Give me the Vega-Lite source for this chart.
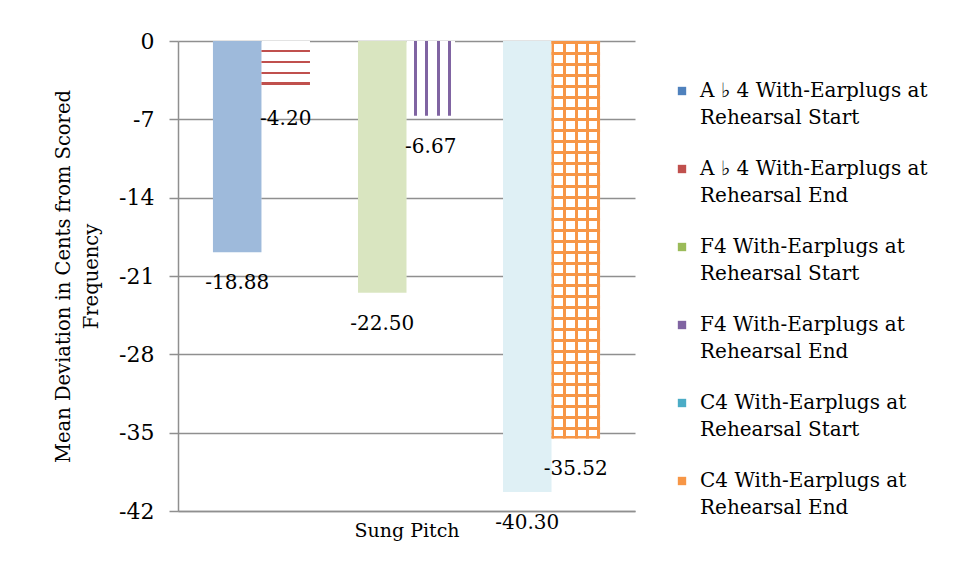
{
  "$schema": "https://vega.github.io/schema/vega-lite/v6.json",
  "width": 457,
  "height": 470,
  "autosize": {"type": "none"},
  "padding": {"left": 178, "top": 41, "right": 323, "bottom": 67},
  "background": "white",
  "config": {
    "font": "DejaVu Serif",
    "view": {"stroke": null},
    "locale": {"number": {"decimal": ".", "thousands": ",", "grouping": [3], "currency": ["$", ""], "minus": "-"}}
  },
  "data": {
    "values": [
      {"pitch": "Ab4", "phase": "Start", "series": "A ♭ 4 With-Earplugs at Rehearsal Start", "value": -18.88},
      {"pitch": "Ab4", "phase": "End", "series": "A ♭ 4 With-Earplugs at Rehearsal End", "value": -4.20},
      {"pitch": "F4", "phase": "Start", "series": "F4 With-Earplugs at Rehearsal Start", "value": -22.50},
      {"pitch": "F4", "phase": "End", "series": "F4 With-Earplugs at Rehearsal End", "value": -6.67},
      {"pitch": "C4", "phase": "Start", "series": "C4 With-Earplugs at Rehearsal Start", "value": -40.30},
      {"pitch": "C4", "phase": "End", "series": "C4 With-Earplugs at Rehearsal End", "value": -35.52}
    ]
  },
  "encoding": {
    "x": {
      "field": "pitch", "type": "nominal", "sort": ["Ab4", "F4", "C4"],
      "scale": {"paddingInner": 0.331, "paddingOuter": 0.241},
      "axis": {
        "labels": false, "ticks": false, "domain": true, "domainColor": "#8f8f8f", "domainWidth": 1.5,
        "title": "Sung Pitch", "titleFontSize": 19, "titleFontWeight": "normal", "titleColor": "black", "titlePadding": 10
      }
    },
    "xOffset": {"field": "phase", "type": "nominal", "sort": ["Start", "End"], "scale": {"paddingInner": 0, "paddingOuter": 0}},
    "y": {
      "field": "value", "type": "quantitative",
      "scale": {"domain": [-42, 0], "nice": false, "zero": false},
      "axis": {
        "values": [0, -7, -14, -21, -28, -35, -42],
        "grid": true, "gridColor": "#8f8f8f", "gridWidth": 1.5,
        "domainColor": "#8f8f8f", "domainWidth": 1.5,
        "tickColor": "#8f8f8f", "tickWidth": 1.5, "tickSize": 9,
        "labelFontSize": 22, "labelColor": "black", "labelPadding": 15,
        "title": ["Mean Deviation in Cents from Scored", "Frequency"],
        "titleFontSize": 19.5, "titleFontWeight": "normal", "titleColor": "black",
        "titleLineHeight": 28, "titleAngle": -90, "titleX": -124, "titleY": 235,
        "titleAlign": "center", "titleBaseline": "top"
      }
    }
  },
  "layer": [
    {
      "mark": {"type": "bar", "color": "white"},
      "encoding": {}
    },
    {
      "mark": {"type": "bar"},
      "encoding": {
        "color": {
          "field": "series", "type": "nominal",
          "scale": {
            "domain": [
              "A ♭ 4 With-Earplugs at Rehearsal Start",
              "A ♭ 4 With-Earplugs at Rehearsal End",
              "F4 With-Earplugs at Rehearsal Start",
              "F4 With-Earplugs at Rehearsal End",
              "C4 With-Earplugs at Rehearsal Start",
              "C4 With-Earplugs at Rehearsal End"
            ],
            "range": ["#4F81BD", "#C0504D", "#9BBB59", "#8064A2", "#4BACC6", "#F79646"]
          },
          "legend": {
            "orient": "none", "legendX": 494, "legendY": 40, "title": null,
            "symbolType": "square", "symbolSize": 70,
            "labelFontSize": 20, "labelColor": "black", "labelLimit": 400,
            "labelExpr": "[slice(datum.label, 0, indexof(datum.label, ' at ') + 3), slice(datum.label, indexof(datum.label, ' at ') + 4)]",
            "rowPadding": 31, "labelOffset": 8,
            "encode": {
              "symbols": {"update": {"fillOpacity": {"value": 1}, "opacity": {"value": 1}}},
              "labels": {"update": {"lineHeight": {"value": 27}}}
            }
          }
        },
        "fillOpacity": {
          "condition": [
            {"test": "datum.pitch == 'Ab4' && datum.phase == 'Start'", "value": 0.55},
            {"test": "datum.pitch == 'F4' && datum.phase == 'Start'", "value": 0.38},
            {"test": "datum.pitch == 'C4' && datum.phase == 'Start'", "value": 0.18}
          ],
          "value": 0
        }
      }
    },
    {
      "transform": [{"filter": "datum.pitch == 'Ab4' && datum.phase == 'End'"}],
      "mark": {
        "type": "bar",
        "fill": {
          "gradient": "linear", "x1": 0, "y1": 0, "x2": 0, "y2": 1,
          "stops": [
            {"offset": 0, "color": "rgba(255,255,255,0)"},
            {"offset": 0.19, "color": "rgba(255,255,255,0)"},
            {"offset": 0.19, "color": "#C0504D"},
            {"offset": 0.24, "color": "#C0504D"},
            {"offset": 0.24, "color": "rgba(255,255,255,0)"},
            {"offset": 0.42, "color": "rgba(255,255,255,0)"},
            {"offset": 0.42, "color": "#C0504D"},
            {"offset": 0.47, "color": "#C0504D"},
            {"offset": 0.47, "color": "rgba(255,255,255,0)"},
            {"offset": 0.65, "color": "rgba(255,255,255,0)"},
            {"offset": 0.65, "color": "#C0504D"},
            {"offset": 0.70, "color": "#C0504D"},
            {"offset": 0.70, "color": "rgba(255,255,255,0)"},
            {"offset": 0.88, "color": "rgba(255,255,255,0)"},
            {"offset": 0.88, "color": "#C0504D"},
            {"offset": 0.93, "color": "#C0504D"},
            {"offset": 0.93, "color": "rgba(255,255,255,0)"},
            {"offset": 1, "color": "rgba(255,255,255,0)"}
          ]
        }
      },
      "encoding": {}
    },
    {
      "transform": [{"filter": "datum.pitch == 'F4' && datum.phase == 'End'"}],
      "mark": {
        "type": "bar",
        "fill": {
          "gradient": "linear", "x1": 0, "y1": 0, "x2": 1, "y2": 0,
          "stops": [
            {"offset": 0, "color": "rgba(255,255,255,0)"},
            {"offset": 0.15, "color": "rgba(255,255,255,0)"},
            {"offset": 0.15, "color": "#8064A2"},
            {"offset": 0.21, "color": "#8064A2"},
            {"offset": 0.21, "color": "rgba(255,255,255,0)"},
            {"offset": 0.39, "color": "rgba(255,255,255,0)"},
            {"offset": 0.39, "color": "#8064A2"},
            {"offset": 0.45, "color": "#8064A2"},
            {"offset": 0.45, "color": "rgba(255,255,255,0)"},
            {"offset": 0.63, "color": "rgba(255,255,255,0)"},
            {"offset": 0.63, "color": "#8064A2"},
            {"offset": 0.69, "color": "#8064A2"},
            {"offset": 0.69, "color": "rgba(255,255,255,0)"},
            {"offset": 0.86, "color": "rgba(255,255,255,0)"},
            {"offset": 0.86, "color": "#8064A2"},
            {"offset": 0.92, "color": "#8064A2"},
            {"offset": 0.92, "color": "rgba(255,255,255,0)"},
            {"offset": 1, "color": "rgba(255,255,255,0)"}
          ]
        }
      },
      "encoding": {}
    },
    {
      "transform": [{"filter": "datum.pitch == 'C4' && datum.phase == 'End'"}],
      "mark": {
        "type": "bar",
        "fill": {
          "gradient": "linear", "x1": 0, "y1": 0, "x2": 1, "y2": 0,
          "stops": [
            {"offset": 0, "color": "#F79646"},
            {"offset": 0.06, "color": "#F79646"},
            {"offset": 0.06, "color": "rgba(255,255,255,0)"},
            {"offset": 0.24, "color": "rgba(255,255,255,0)"},
            {"offset": 0.24, "color": "#F79646"},
            {"offset": 0.30, "color": "#F79646"},
            {"offset": 0.30, "color": "rgba(255,255,255,0)"},
            {"offset": 0.49, "color": "rgba(255,255,255,0)"},
            {"offset": 0.49, "color": "#F79646"},
            {"offset": 0.55, "color": "#F79646"},
            {"offset": 0.55, "color": "rgba(255,255,255,0)"},
            {"offset": 0.72, "color": "rgba(255,255,255,0)"},
            {"offset": 0.72, "color": "#F79646"},
            {"offset": 0.78, "color": "#F79646"},
            {"offset": 0.78, "color": "rgba(255,255,255,0)"},
            {"offset": 0.94, "color": "rgba(255,255,255,0)"},
            {"offset": 0.94, "color": "#F79646"},
            {"offset": 1, "color": "#F79646"}
          ]
        }
      },
      "encoding": {}
    },
    {
      "transform": [{"filter": "datum.pitch == 'C4' && datum.phase == 'End'"}],
      "mark": {
        "type": "bar",
        "fill": {
          "gradient": "linear", "x1": 0, "y1": 0, "x2": 0, "y2": 1,
          "stops": [
            {"offset": 0, "color": "#F79646"}, {"offset": 0.0075, "color": "#F79646"}, {"offset": 0.0075, "color": "rgba(255,255,255,0)"}, {"offset": 0.0278, "color": "rgba(255,255,255,0)"},
            {"offset": 0.0278, "color": "#F79646"}, {"offset": 0.0353, "color": "#F79646"}, {"offset": 0.0353, "color": "rgba(255,255,255,0)"}, {"offset": 0.0556, "color": "rgba(255,255,255,0)"},
            {"offset": 0.0556, "color": "#F79646"}, {"offset": 0.0631, "color": "#F79646"}, {"offset": 0.0631, "color": "rgba(255,255,255,0)"}, {"offset": 0.0833, "color": "rgba(255,255,255,0)"},
            {"offset": 0.0833, "color": "#F79646"}, {"offset": 0.0908, "color": "#F79646"}, {"offset": 0.0908, "color": "rgba(255,255,255,0)"}, {"offset": 0.1111, "color": "rgba(255,255,255,0)"},
            {"offset": 0.1111, "color": "#F79646"}, {"offset": 0.1186, "color": "#F79646"}, {"offset": 0.1186, "color": "rgba(255,255,255,0)"}, {"offset": 0.1389, "color": "rgba(255,255,255,0)"},
            {"offset": 0.1389, "color": "#F79646"}, {"offset": 0.1464, "color": "#F79646"}, {"offset": 0.1464, "color": "rgba(255,255,255,0)"}, {"offset": 0.1667, "color": "rgba(255,255,255,0)"},
            {"offset": 0.1667, "color": "#F79646"}, {"offset": 0.1742, "color": "#F79646"}, {"offset": 0.1742, "color": "rgba(255,255,255,0)"}, {"offset": 0.1944, "color": "rgba(255,255,255,0)"},
            {"offset": 0.1944, "color": "#F79646"}, {"offset": 0.2019, "color": "#F79646"}, {"offset": 0.2019, "color": "rgba(255,255,255,0)"}, {"offset": 0.2222, "color": "rgba(255,255,255,0)"},
            {"offset": 0.2222, "color": "#F79646"}, {"offset": 0.2297, "color": "#F79646"}, {"offset": 0.2297, "color": "rgba(255,255,255,0)"}, {"offset": 0.25, "color": "rgba(255,255,255,0)"},
            {"offset": 0.25, "color": "#F79646"}, {"offset": 0.2575, "color": "#F79646"}, {"offset": 0.2575, "color": "rgba(255,255,255,0)"}, {"offset": 0.2778, "color": "rgba(255,255,255,0)"},
            {"offset": 0.2778, "color": "#F79646"}, {"offset": 0.2853, "color": "#F79646"}, {"offset": 0.2853, "color": "rgba(255,255,255,0)"}, {"offset": 0.3056, "color": "rgba(255,255,255,0)"},
            {"offset": 0.3056, "color": "#F79646"}, {"offset": 0.3131, "color": "#F79646"}, {"offset": 0.3131, "color": "rgba(255,255,255,0)"}, {"offset": 0.3333, "color": "rgba(255,255,255,0)"},
            {"offset": 0.3333, "color": "#F79646"}, {"offset": 0.3408, "color": "#F79646"}, {"offset": 0.3408, "color": "rgba(255,255,255,0)"}, {"offset": 0.3611, "color": "rgba(255,255,255,0)"},
            {"offset": 0.3611, "color": "#F79646"}, {"offset": 0.3686, "color": "#F79646"}, {"offset": 0.3686, "color": "rgba(255,255,255,0)"}, {"offset": 0.3889, "color": "rgba(255,255,255,0)"},
            {"offset": 0.3889, "color": "#F79646"}, {"offset": 0.3964, "color": "#F79646"}, {"offset": 0.3964, "color": "rgba(255,255,255,0)"}, {"offset": 0.4167, "color": "rgba(255,255,255,0)"},
            {"offset": 0.4167, "color": "#F79646"}, {"offset": 0.4242, "color": "#F79646"}, {"offset": 0.4242, "color": "rgba(255,255,255,0)"}, {"offset": 0.4444, "color": "rgba(255,255,255,0)"},
            {"offset": 0.4444, "color": "#F79646"}, {"offset": 0.4519, "color": "#F79646"}, {"offset": 0.4519, "color": "rgba(255,255,255,0)"}, {"offset": 0.4722, "color": "rgba(255,255,255,0)"},
            {"offset": 0.4722, "color": "#F79646"}, {"offset": 0.4797, "color": "#F79646"}, {"offset": 0.4797, "color": "rgba(255,255,255,0)"}, {"offset": 0.5, "color": "rgba(255,255,255,0)"},
            {"offset": 0.5, "color": "#F79646"}, {"offset": 0.5075, "color": "#F79646"}, {"offset": 0.5075, "color": "rgba(255,255,255,0)"}, {"offset": 0.5278, "color": "rgba(255,255,255,0)"},
            {"offset": 0.5278, "color": "#F79646"}, {"offset": 0.5353, "color": "#F79646"}, {"offset": 0.5353, "color": "rgba(255,255,255,0)"}, {"offset": 0.5556, "color": "rgba(255,255,255,0)"},
            {"offset": 0.5556, "color": "#F79646"}, {"offset": 0.5631, "color": "#F79646"}, {"offset": 0.5631, "color": "rgba(255,255,255,0)"}, {"offset": 0.5833, "color": "rgba(255,255,255,0)"},
            {"offset": 0.5833, "color": "#F79646"}, {"offset": 0.5908, "color": "#F79646"}, {"offset": 0.5908, "color": "rgba(255,255,255,0)"}, {"offset": 0.6111, "color": "rgba(255,255,255,0)"},
            {"offset": 0.6111, "color": "#F79646"}, {"offset": 0.6186, "color": "#F79646"}, {"offset": 0.6186, "color": "rgba(255,255,255,0)"}, {"offset": 0.6389, "color": "rgba(255,255,255,0)"},
            {"offset": 0.6389, "color": "#F79646"}, {"offset": 0.6464, "color": "#F79646"}, {"offset": 0.6464, "color": "rgba(255,255,255,0)"}, {"offset": 0.6667, "color": "rgba(255,255,255,0)"},
            {"offset": 0.6667, "color": "#F79646"}, {"offset": 0.6742, "color": "#F79646"}, {"offset": 0.6742, "color": "rgba(255,255,255,0)"}, {"offset": 0.6944, "color": "rgba(255,255,255,0)"},
            {"offset": 0.6944, "color": "#F79646"}, {"offset": 0.7019, "color": "#F79646"}, {"offset": 0.7019, "color": "rgba(255,255,255,0)"}, {"offset": 0.7222, "color": "rgba(255,255,255,0)"},
            {"offset": 0.7222, "color": "#F79646"}, {"offset": 0.7297, "color": "#F79646"}, {"offset": 0.7297, "color": "rgba(255,255,255,0)"}, {"offset": 0.75, "color": "rgba(255,255,255,0)"},
            {"offset": 0.75, "color": "#F79646"}, {"offset": 0.7575, "color": "#F79646"}, {"offset": 0.7575, "color": "rgba(255,255,255,0)"}, {"offset": 0.7778, "color": "rgba(255,255,255,0)"},
            {"offset": 0.7778, "color": "#F79646"}, {"offset": 0.7853, "color": "#F79646"}, {"offset": 0.7853, "color": "rgba(255,255,255,0)"}, {"offset": 0.8056, "color": "rgba(255,255,255,0)"},
            {"offset": 0.8056, "color": "#F79646"}, {"offset": 0.8131, "color": "#F79646"}, {"offset": 0.8131, "color": "rgba(255,255,255,0)"}, {"offset": 0.8333, "color": "rgba(255,255,255,0)"},
            {"offset": 0.8333, "color": "#F79646"}, {"offset": 0.8408, "color": "#F79646"}, {"offset": 0.8408, "color": "rgba(255,255,255,0)"}, {"offset": 0.8611, "color": "rgba(255,255,255,0)"},
            {"offset": 0.8611, "color": "#F79646"}, {"offset": 0.8686, "color": "#F79646"}, {"offset": 0.8686, "color": "rgba(255,255,255,0)"}, {"offset": 0.8889, "color": "rgba(255,255,255,0)"},
            {"offset": 0.8889, "color": "#F79646"}, {"offset": 0.8964, "color": "#F79646"}, {"offset": 0.8964, "color": "rgba(255,255,255,0)"}, {"offset": 0.9167, "color": "rgba(255,255,255,0)"},
            {"offset": 0.9167, "color": "#F79646"}, {"offset": 0.9242, "color": "#F79646"}, {"offset": 0.9242, "color": "rgba(255,255,255,0)"}, {"offset": 0.9444, "color": "rgba(255,255,255,0)"},
            {"offset": 0.9444, "color": "#F79646"}, {"offset": 0.9519, "color": "#F79646"}, {"offset": 0.9519, "color": "rgba(255,255,255,0)"}, {"offset": 0.9722, "color": "rgba(255,255,255,0)"},
            {"offset": 0.9722, "color": "#F79646"}, {"offset": 0.9797, "color": "#F79646"}, {"offset": 0.9797, "color": "rgba(255,255,255,0)"}, {"offset": 0.9925, "color": "rgba(255,255,255,0)"},
            {"offset": 0.9925, "color": "#F79646"}, {"offset": 1, "color": "#F79646"}
          ]
        }
      },
      "encoding": {}
    },
    {
      "mark": {"type": "text", "fontSize": 20, "color": "black", "baseline": "middle", "align": "center", "dy": 31},
      "encoding": {
        "text": {"field": "value", "type": "quantitative", "format": ".2f"}
      }
    }
  ]
}
